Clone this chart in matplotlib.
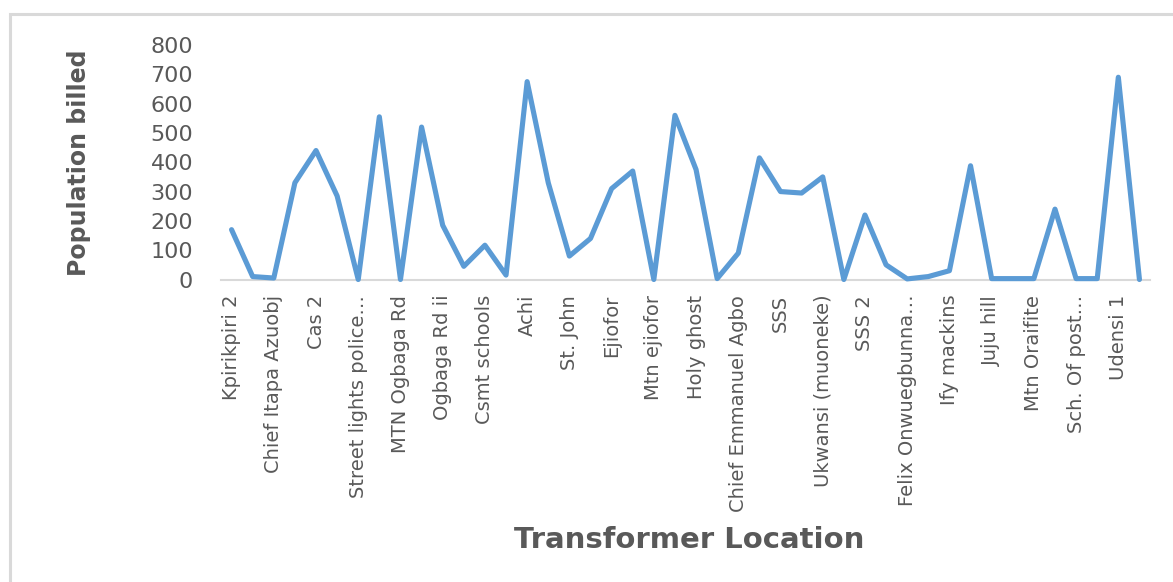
import numpy as np
import matplotlib
matplotlib.use("Agg")
from matplotlib import pyplot as plt
from matplotlib.patches import Rectangle

# population billed per transformer (44 locations, only every 2nd name shown on the axis)
billed = [170, 10, 5, 330, 440, 285, 0, 555, 0, 520,
          185, 45, 117, 15, 675, 330, 80, 140, 310, 370,
          0, 560, 375, 3, 90, 415, 300, 295, 350, 0,
          220, 50, 2, 10, 30, 388, 3, 3, 3, 240,
          3, 3, 690, 0]

shown_labels = ["Kpirikpiri 2", "Chief Itapa Azuobj", "Cas 2", "Street lights police\u2026",
                "MTN Ogbaga Rd", "Ogbaga Rd ii", "Csmt schools", "Achi", "St. John",
                "Ejiofor", "Mtn ejiofor", "Holy ghost", "Chief Emmanuel Agbo", "SSS",
                "Ukwansi (muoneke)", "SSS 2", "Felix Onwuegbunna\u2026", "Ify mackins",
                "Juju hill", "Mtn Oraifite", "Sch. Of post\u2026", "Udensi 1"]

y_ticks = [0, 100, 200, 300, 400, 500, 600, 700, 800]

grey = "#595959"
W, H = 1173, 582

fig = plt.figure(figsize=(W / 100, H / 100), dpi=100)
ax = fig.add_axes([221 / W, 1 - 279.5 / H, (1150 - 221) / W, (279.5 - 45) / H])

x = np.arange(len(billed))
ax.plot(x, billed, color="#5B9BD5", lw=3.7, solid_joinstyle="round",
        solid_capstyle="round", clip_on=False, zorder=3)

ax.set_xlim(-0.5, len(billed) - 0.5)
ax.set_ylim(0, 800)
ax.set_yticks(y_ticks)
ax.set_yticklabels([str(v) for v in y_ticks], fontsize=16, color=grey)
ax.set_xticks(x[::2])
ax.set_xticklabels(shown_labels, rotation=90, fontsize=14, color=grey)
ax.tick_params(axis="both", length=0)
ax.tick_params(axis="x", pad=11)
ax.tick_params(axis="y", pad=20)

for s in ["top", "right", "left"]:
    ax.spines[s].set_visible(False)
ax.spines["bottom"].set_color("#d9d9d9")
ax.spines["bottom"].set_linewidth(1.5)

fig.text(79 / W, 1 - 163 / H, "Population billed", rotation=90, ha="center", va="center",
         fontsize=17, fontweight="bold", color=grey)
fig.text(689 / W, 1 - 540 / H, "Transformer Location", ha="center", va="center",
         fontsize=21, fontweight="bold", color=grey)

# chart-area border (right and bottom edges fall outside the picture)
fig.patches.append(Rectangle((10 / W, -0.1), 1.2, 1 - 14 / H + 0.1, transform=fig.transFigure,
                             fill=False, edgecolor="#d9d9d9", lw=2.2))

fig.savefig("out.png", dpi=100)
